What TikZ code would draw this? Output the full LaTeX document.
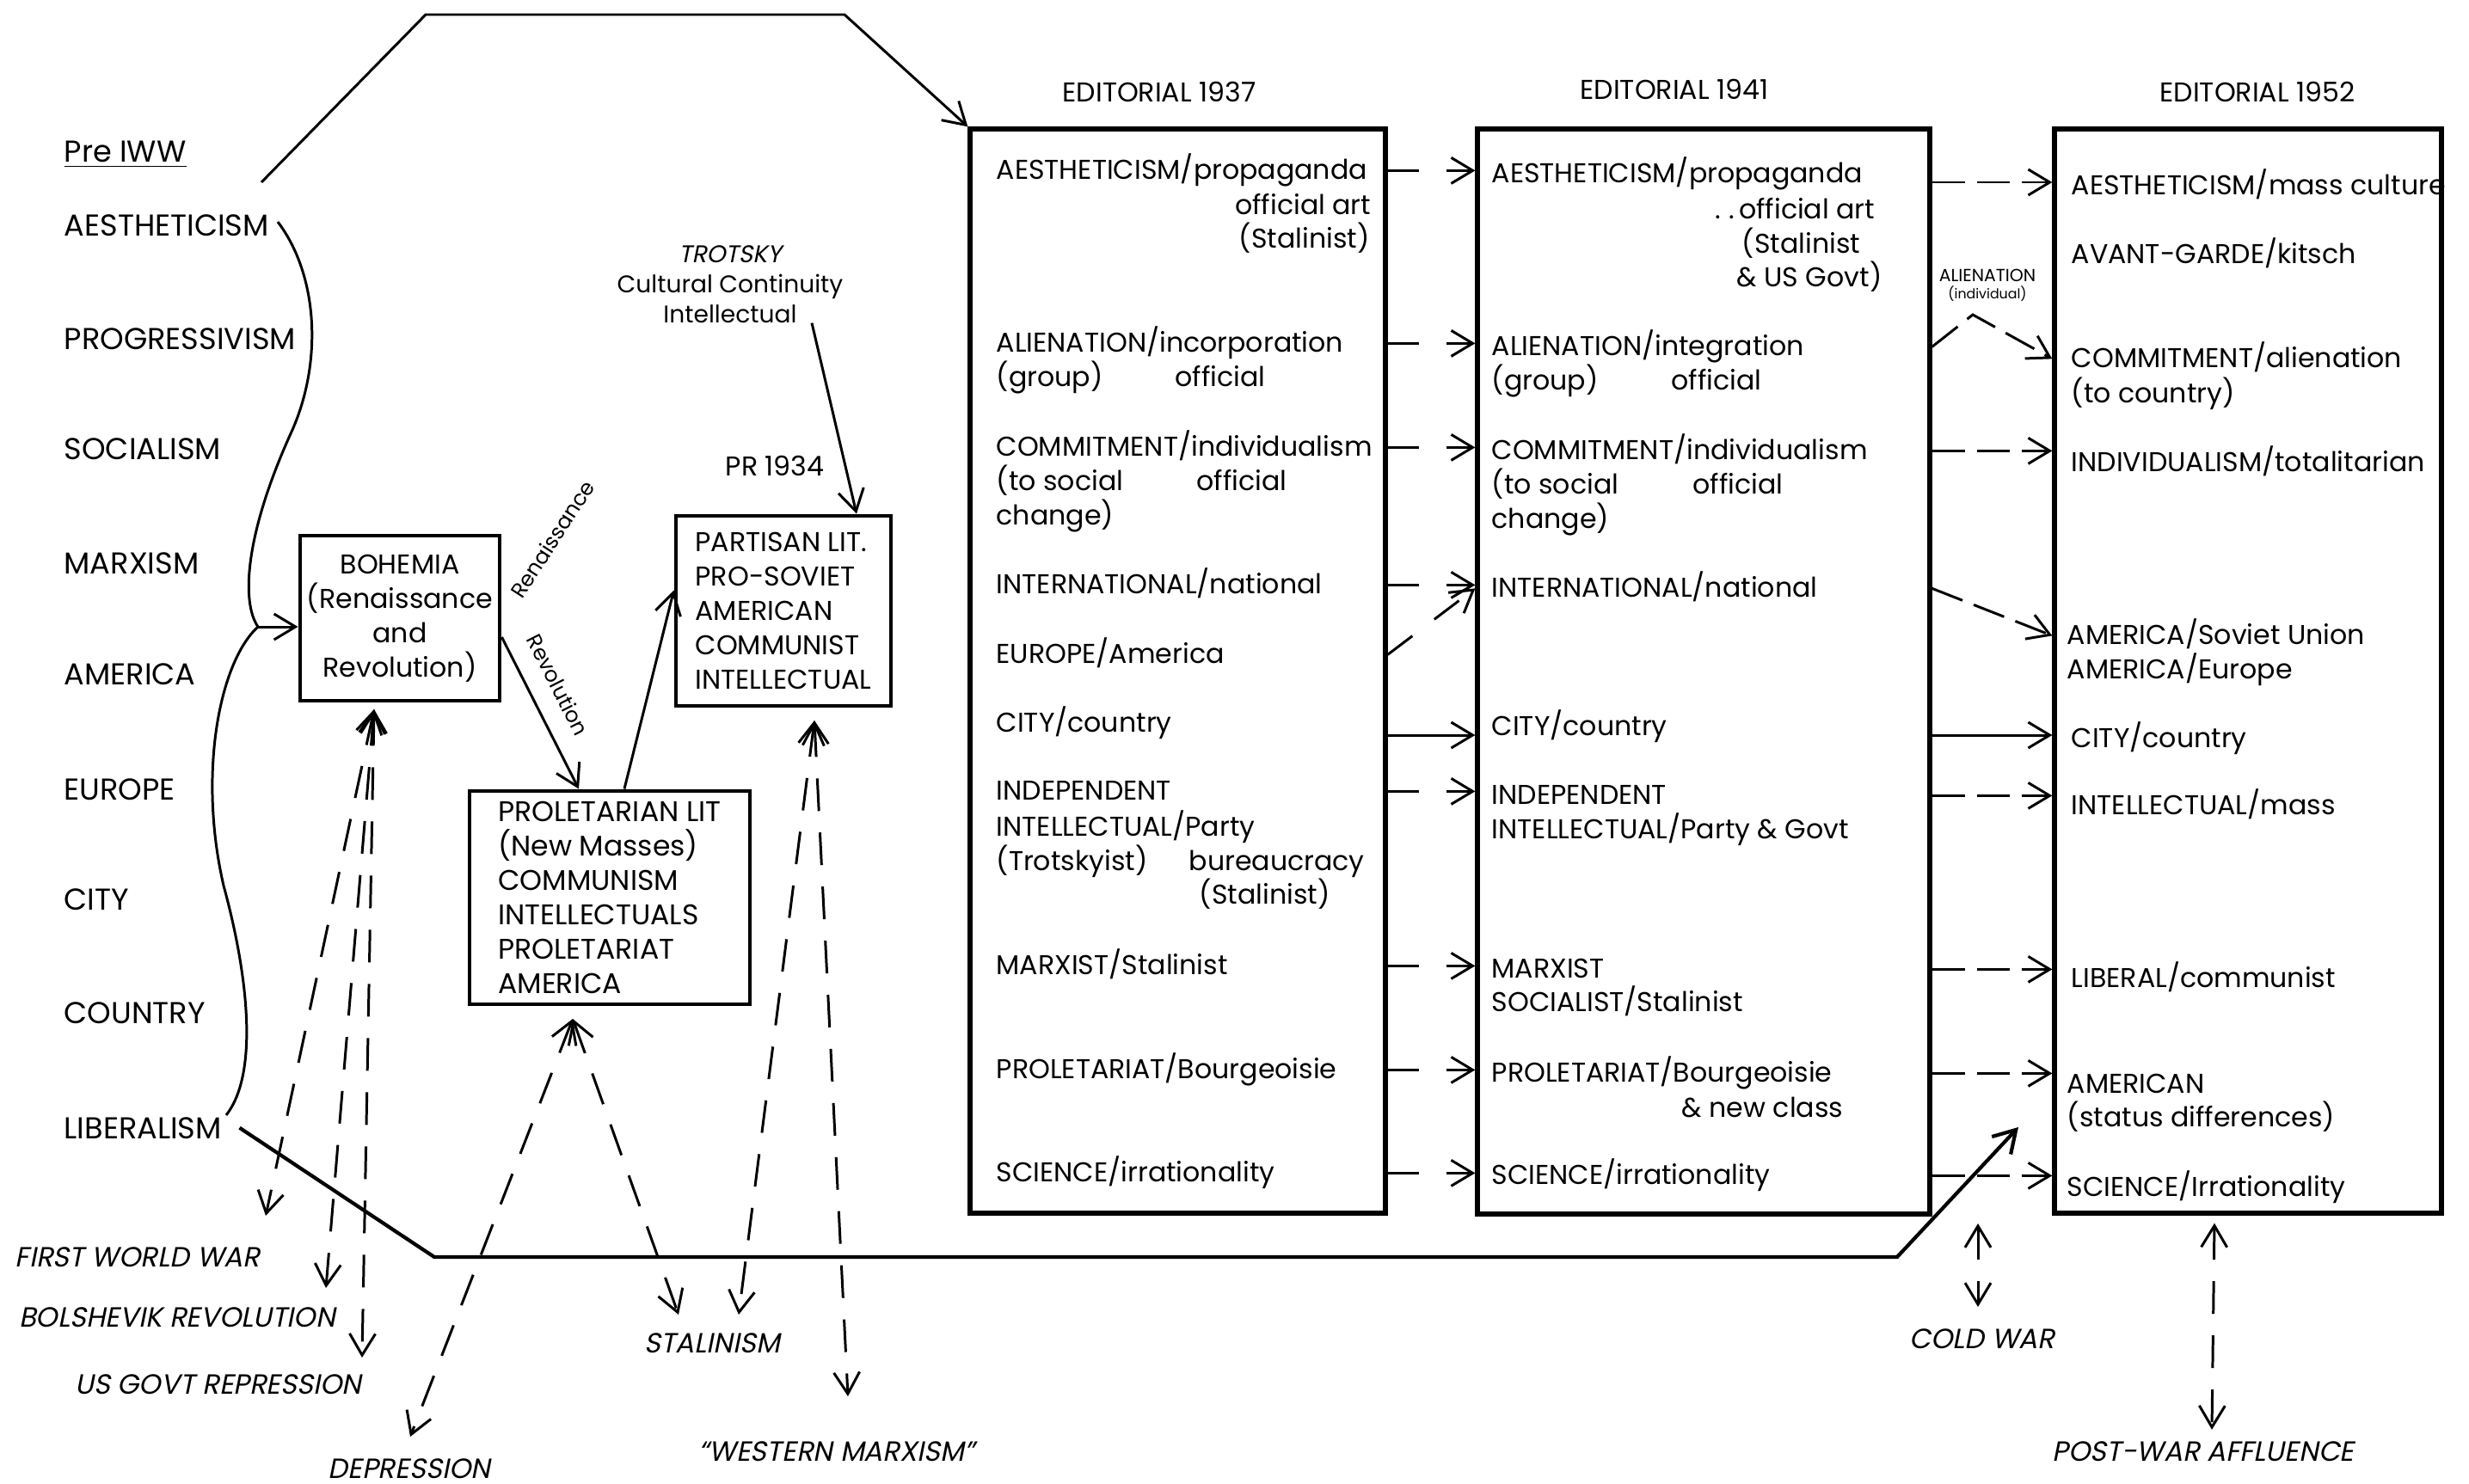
\documentclass[tikz,border=0pt]{standalone}
\usepackage{fontspec}
\setmainfont{Poppins}
\newfontfamily\slfont[FakeSlant=0.2]{Poppins}
\usetikzlibrary{arrows.meta}

\begin{document}
\begin{tikzpicture}[
    font=\fontsize{9}{11.4}\selectfont,
    row/.style={anchor=base west, inner sep=0pt},
    rowr/.style={anchor=base east, inner sep=0pt},
    lrow/.style={row, font=\fontsize{10}{12}\selectfont},
    ev/.style={inner sep=0pt, font=\slfont\fontsize{9.2}{11}\selectfont},
    bigbox/.style={draw, line width=1.5pt, inner sep=0pt},
    smallbox/.style={draw, line width=1.4pt, inner sep=0pt},
    conn/.style={line width=0.85pt, -{Straight Barb[length=2.5mm,width=3mm]}},
    dsh/.style={conn, dash pattern=on 0.36cm off 0.32cm},
    dshb/.style={conn, dash pattern=on 0.38cm off 0.14cm},
    both/.style={conn, dash pattern=on 0.38cm off 0.25cm, {Straight Barb[length=2.5mm,width=3mm]}-{Straight Barb[length=2.5mm,width=3mm]}}
]
    \useasboundingbox (0,0) rectangle (28.71,-17.26);

    %Pre IWW column
    \node[lrow] (prew) at (0.74,-1.88) {\underline{Pre IWW}};
    \node[lrow] (laes) at (0.74,-2.74) {AESTHETICISM};
    \node[lrow] (lprog) at (0.74,-4.06) {PROGRESSIVISM};
    \node[lrow] (lsoc) at (0.74,-5.34) {SOCIALISM};
    \node[lrow] (lmarx) at (0.74,-6.67) {MARXISM};
    \node[lrow] (lamer) at (0.74,-7.96) {AMERICA};
    \node[lrow] (leur) at (0.74,-9.30) {EUROPE};
    \node[lrow] (lcity) at (0.74,-10.58) {CITY};
    \node[lrow] (lcountry) at (0.74,-11.90) {COUNTRY};
    \node[lrow] (llib) at (0.74,-13.24) {LIBERALISM};
    %Brace
    \coordinate (jn) at (3.0,-7.29);
    \draw[line width=0.85pt] (3.23,-2.58) .. controls (3.7,-3.2) and (3.75,-4.2) .. (3.4,-5.0)
        .. controls (2.85,-6.2) and (2.8,-7.0) .. (jn);
    \draw[line width=0.85pt] (jn) .. controls (2.55,-7.7) and (2.3,-9.0) .. (2.6,-10.3)
        .. controls (2.9,-11.4) and (3.0,-12.5) .. (2.63,-12.97);

    %Bohemia, Partisan, Proletarian
    \node[smallbox, minimum width=2.32cm, minimum height=1.92cm, align=center] (boh) at (4.65,-7.19)
        {BOHEMIA\\(Renaissance\\and\\Revolution)};
    \node[smallbox, minimum width=2.5cm, minimum height=2.21cm, align=left] (part) at (9.11,-7.105)
        {PARTISAN LIT.\\PRO-SOVIET\\AMERICAN\\COMMUNIST\\INTELLECTUAL};
    \node[smallbox, minimum width=3.26cm, minimum height=2.48cm, align=left,
          font=\fontsize{9.4}{11.4}\selectfont] (prol) at (7.09,-10.44)
        {PROLETARIAN LIT\\(New Masses)\\COMMUNISM\\INTELLECTUALS\\PROLETARIAT\\AMERICA};
    \node (pr) at (9.01,-5.42) {PR 1934};
    \node[align=center, font=\fontsize{8}{10}\selectfont] (tro) at (8.49,-3.31)
        {{\slfont TROTSKY}\\Cultural Continuity\\Intellectual};
    \node[rotate=57, font=\fontsize{7}{8}\selectfont] (ren) at (6.42,-6.27) {Renaissance};

    \draw[conn] (jn) -- (boh.west |- jn);
    \draw[conn] ([yshift=-0.22cm]boh.east) -- node[pos=0.4, sloped, above=3pt, font=\fontsize{7}{8}\selectfont] (rev) {Revolution} ([xshift=-0.36cm]prol.north);
    \draw[conn] ([xshift=0.17cm]prol.north) -- ([yshift=0.24cm]part.west);
    \draw[conn] ([shift={(0.95,0.13)}]tro.south) -- ([xshift=0.85cm]part.north);

    %Editorial 1937
    \node (t37) at (13.48,-1.07) {EDITORIAL 1937};
    \node[bigbox, minimum width=4.83cm, minimum height=12.61cm] (b37) at (13.695,-7.805) {};
    \node[row] (e37aes) at (11.58,-2.08) {AESTHETICISM/propaganda};
    \node[rowr] at (15.95,-2.49) {official art};
    \node[row] at (14.40,-2.88) {(Stalinist)};
    \node[row] (e37ali) at (11.58,-4.09) {ALIENATION/incorporation};
    \node[row] at (11.58,-4.49) {(group)};
    \node[row] at (13.66,-4.49) {official};
    \node[row] (e37com) at (11.58,-5.30) {COMMITMENT/individualism};
    \node[row] at (11.58,-5.70) {(to social};
    \node[row] at (13.91,-5.70) {official};
    \node[row] at (11.58,-6.10) {change)};
    \node[row] (e37int) at (11.58,-6.90) {INTERNATIONAL/national};
    \node[row] (e37eur) at (11.58,-7.71) {EUROPE/America};
    \node[row] (e37city) at (11.58,-8.51) {CITY/country};
    \node[row] (e37ind) at (11.58,-9.30) {INDEPENDENT};
    \node[row] at (11.58,-9.72) {INTELLECTUAL/Party};
    \node[row] at (11.58,-10.12) {(Trotskyist)};
    \node[row] at (13.82,-10.12) {bureaucracy};
    \node[row] at (13.94,-10.51) {(Stalinist)};
    \node[row] (e37mar) at (11.58,-11.33) {MARXIST/Stalinist};
    \node[row] (e37pro) at (11.58,-12.54) {PROLETARIAT/Bourgeoisie};
    \node[row] (e37sci) at (11.58,-13.74) {SCIENCE/irrationality};

    %Editorial 1941
    \node (t41) at (19.47,-1.04) {EDITORIAL 1941};
    \node[bigbox, minimum width=5.26cm, minimum height=12.62cm] (b41) at (19.81,-7.81) {};
    \node[row] (e41aes) at (17.34,-2.12) {AESTHETICISM/propaganda};
    \node[rowr] at (21.81,-2.54) {.\;.\,official art};
    \node[row] at (20.25,-2.94) {(Stalinist};
    \node[row] at (20.19,-3.33) {\& US Govt)};
    \node[row] (e41ali) at (17.34,-4.13) {ALIENATION/integration};
    \node[row] at (17.34,-4.53) {(group)};
    \node[row] at (19.43,-4.53) {official};
    \node[row] (e41com) at (17.34,-5.34) {COMMITMENT/individualism};
    \node[row] at (17.34,-5.74) {(to social};
    \node[row] at (19.68,-5.74) {official};
    \node[row] at (17.34,-6.14) {change)};
    \node[row] (e41int) at (17.34,-6.94) {INTERNATIONAL/national};
    \node[row] (e41city) at (17.34,-8.55) {CITY/country};
    \node[row] (e41ind) at (17.34,-9.35) {INDEPENDENT};
    \node[row] at (17.34,-9.75) {INTELLECTUAL/Party \& Govt};
    \node[row] (e41mar) at (17.34,-11.37) {MARXIST};
    \node[row] at (17.34,-11.76) {SOCIALIST/Stalinist};
    \node[row] (e41pro) at (17.34,-12.58) {PROLETARIAT/Bourgeoisie};
    \node[rowr] at (21.44,-12.99) {\& new class};
    \node[row] (e41sci) at (17.34,-13.77) {SCIENCE/irrationality};

    %Editorial 1952
    \node (t52) at (26.25,-1.07) {EDITORIAL 1952};
    \node[bigbox, minimum width=4.50cm, minimum height=12.61cm] (b52) at (26.14,-7.805) {};
    \node[row] (e52aes) at (24.08,-2.26) {AESTHETICISM/mass culture};
    \node[row] at (24.08,-3.06) {AVANT-GARDE/kitsch};
    \node[row] (e52com) at (24.08,-4.27) {COMMITMENT/alienation};
    \node[row] at (24.08,-4.68) {(to country)};
    \node[row] (e52indiv) at (24.08,-5.48) {INDIVIDUALISM/totalitarian};
    \node[row] (e52amer) at (24.03,-7.49) {AMERICA/Soviet Union};
    \node[row] at (24.03,-7.89) {AMERICA/Europe};
    \node[row] (e52city) at (24.08,-8.69) {CITY/country};
    \node[row] (e52intel) at (24.08,-9.47) {INTELLECTUAL/mass};
    \node[row] (e52lib) at (24.08,-11.48) {LIBERAL/communist};
    \node[row] (e52amcn) at (24.03,-12.71) {AMERICAN};
    \node[row] (e52stat) at (24.03,-13.10) {(status differences)};
    \node[row] (e52sci) at (24.03,-13.91) {SCIENCE/Irrationality};
    \node[align=center, font=\fontsize{5.8}{5.7}\selectfont] (alien) at (23.11,-3.32)
        {ALIENATION\\{\fontsize{4.5}{5}\selectfont (individual)}};

    %1937 -> 1941
    \draw[dsh] (b37.east |- e37aes.mid) -- (b41.west |- e37aes.mid);
    \draw[dsh] (b37.east |- e37ali.mid) -- (b41.west |- e37ali.mid);
    \draw[dsh] (b37.east |- e37com.mid) -- (b41.west |- e37com.mid);
    \draw[dsh] (b37.east |- e37int.mid) -- (b41.west |- e37int.mid);
    \draw[dsh] (b37.east |- e37eur.mid) -- (b41.west |- e41int.mid);
    \draw[conn] (b37.east |- e41city.base) -- (b41.west |- e41city.base);
    \draw[dsh] (b37.east |- e37ind.mid) -- (b41.west |- e37ind.mid);
    \draw[dsh] (b37.east |- e37mar.mid) -- (b41.west |- e37mar.mid);
    \draw[dsh] (b37.east |- e37pro.mid) -- (b41.west |- e37pro.mid);
    \draw[dsh] (b37.east |- e37sci.mid) -- (b41.west |- e37sci.mid);
    %1941 -> 1952
    \draw[dshb] (b41.east |- e41aes.base) -- (b52.west |- e41aes.base);
    \draw[dshb] (b41.east |- e41ali.mid) -- (22.94,-3.66) -- (b52.west |- e52com.mid);
    \draw[dshb] (b41.east |- e41com.mid) -- (b52.west |- e41com.mid);
    \draw[dshb] (b41.east |- e41int.mid) -- (b52.west |- e52amer.mid);
    \draw[conn] (b41.east |- e41city.base) -- (b52.west |- e41city.base);
    \draw[dshb] (b41.east |- e41ind.mid) -- (b52.west |- e41ind.mid);
    \draw[dshb] (b41.east |- e41mar.mid) -- (b52.west |- e41mar.mid);
    \draw[dshb] (b41.east |- e41pro.mid) -- (b52.west |- e41pro.mid);
    \draw[dshb] (b41.east |- e41sci.mid) -- (b52.west |- e41sci.mid);

    %Long lines
    \coordinate (tl) at (3.04,-2.12);
    \draw[conn] (tl) -- (4.95,-0.17) -- (9.82,-0.17) -- (b37.north west);
    \coordinate (ame) at (23.47,-13.11);
    \draw[conn, line width=1.2pt] ([xshift=0.2cm]llib.east) -- (5.05,-14.62) -- (22.06,-14.62) -- (ame);

    %Events
    \node[ev] (fww) at (1.60,-14.62) {FIRST WORLD WAR};
    \node[ev] (bol) at (2.06,-15.32) {BOLSHEVIK REVOLUTION};
    \node[ev] (usg) at (2.54,-16.10) {US GOVT REPRESSION};
    \node[ev] (dep) at (4.76,-17.08) {DEPRESSION};
    \node[ev] (stal) at (8.28,-15.62) {STALINISM};
    \node[ev] (wm) at (9.73,-16.88) {“WESTERN MARXISM”};
    \node[ev] (cold) at (23.05,-15.57) {COLD WAR};
    \node[ev] (paff) at (25.62,-16.88) {POST-WAR AFFLUENCE};

    \coordinate (bohb) at (4.35,-8.25);
    \coordinate (prolb) at (6.66,-11.85);
    \coordinate (partb) at (9.47,-8.38);
    \coordinate (tfww) at (3.09,-14.14);
    \coordinate (tbol) at (3.79,-14.98);
    \coordinate (tusg) at (4.21,-15.79);
    \coordinate (tdep) at (4.77,-16.71);
    \coordinate (tst1) at (7.89,-15.29);
    \coordinate (tst2) at (8.59,-15.29);
    \coordinate (twm) at (9.86,-16.24);
    \draw[both] (bohb) -- (tfww);
    \draw[both] (bohb) -- (tbol);
    \draw[both] (bohb) -- (tusg);
    \draw[both] (prolb) -- (tdep);
    \draw[both] (prolb) -- (tst1);
    \draw[both] (partb) -- (tst2);
    \draw[both] (partb) -- (twm);
    \coordinate (cwt) at (23.0,-14.23);
    \draw[both] (cwt) -- (23.0,-15.2);
    \draw[both] ([xshift=-0.39cm,yshift=-0.09cm]b52.south) -- ([xshift=0.1cm,yshift=0.13cm]paff.north);
\end{tikzpicture}
\end{document}
